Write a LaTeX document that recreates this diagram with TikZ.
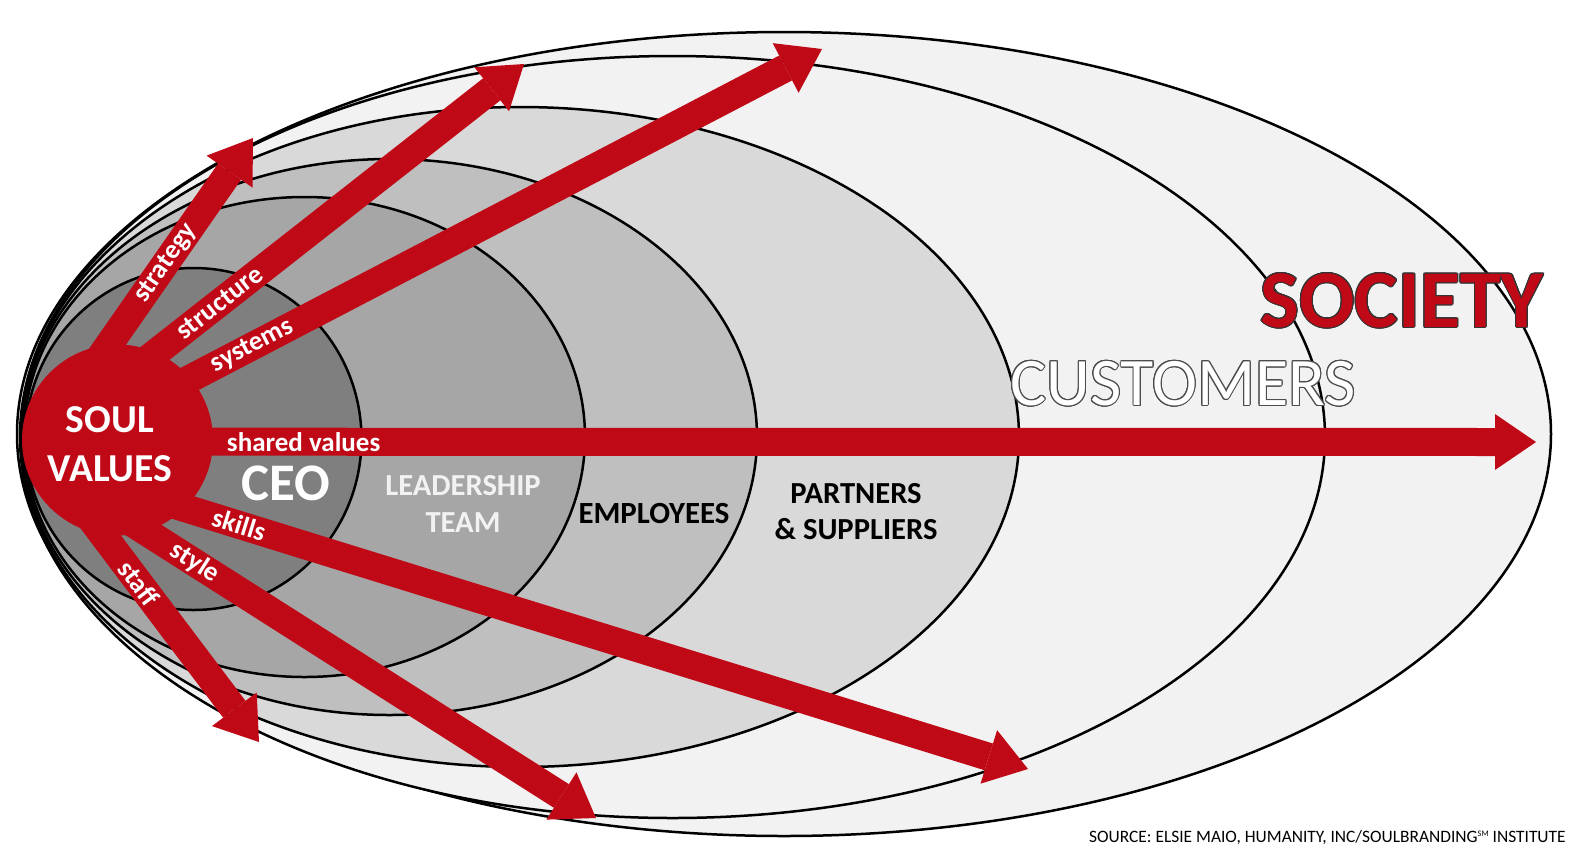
\documentclass[tikz,border=0pt]{standalone}
\usepackage{fontspec}
\setmainfont{Carlito}
\usepackage{contour}
\usetikzlibrary{arrows.meta}
\definecolor{soulred}{RGB}{191,9,22}
\definecolor{ceogray}{HTML}{7F7F7F}
\definecolor{leadgray}{HTML}{A6A6A6}
\definecolor{empgray}{HTML}{BFBFBF}
\definecolor{partgray}{HTML}{D9D9D9}
\definecolor{custgray}{HTML}{F2F2F2}
\contourlength{0.5pt}
\begin{document}
\begin{tikzpicture}[
  x=0.5pt, y=-0.5pt,
  ring/.style={draw=black, line width=1.25pt},
  valarrow/.style={draw=soulred, line width=14pt, shorten <=15pt,
    -{Triangle[width=28pt, length=20.5pt, line width=0pt]}},
  vlabel/.style={text=white, font=\fontsize{13.5}{16}\selectfont\bfseries, sloped, inner sep=0pt},
  ringtext/.style={font=\fontsize{15.3}{18.75}\selectfont\bfseries, align=center, inner sep=0pt},
]
\useasboundingbox (0,0) rectangle (1586,864);
\fill[white] (0,0) rectangle (1586,864);

\draw[ring, fill=custgray] (784,434) ellipse [x radius=767, y radius=402];
\draw[ring, fill=custgray] (672.5,437) ellipse [x radius=652.5, y radius=381];
\draw[ring, fill=partgray] (520,437) ellipse [x radius=499, y radius=330];
\draw[ring, fill=empgray] (389.5,437) ellipse [x radius=367.5, y radius=278];
\draw[ring, fill=leadgray] (304.5,437) ellipse [x radius=280.5, y radius=240];
\draw[ring, fill=ceogray] (193.5,439) ellipse [x radius=168, y radius=171];

\node[circle, fill=soulred, minimum size=95.5pt, inner sep=0pt, outer sep=0pt] (soul) at (117.5,440) {};

\coordinate (shared-tip) at (1536,442);
\coordinate (strategy-tip) at (253,138);
\coordinate (structure-tip) at (524,64);
\coordinate (systems-tip) at (822,49);
\coordinate (skills-tip) at (1028,769);
\coordinate (style-tip) at (596,818);
\coordinate (staff-tip) at (259,742);

\draw[valarrow] (soul.181) -- node[vlabel, pos=0.186] {shared values} (shared-tip);
\draw[valarrow] (soul.195) -- node[vlabel, pos=0.617] {strategy} (strategy-tip);
\draw[valarrow] (soul.190) -- node[vlabel, pos=0.392] {structure} (structure-tip);
\draw[valarrow] (soul.195) -- node[vlabel, pos=0.285] {systems} (systems-tip);
\draw[valarrow] (soul.191) -- node[vlabel, pos=0.2145] {skills} (skills-tip);
\draw[valarrow] (soul.188) -- node[vlabel, pos=0.300] {style} (style-tip);
\draw[valarrow] (soul.173) -- node[vlabel, pos=0.493] {staff} (staff-tip);

\node[text=white, font=\fontsize{19.8}{24.5}\selectfont\bfseries, align=center, inner sep=0pt] (soultext) at (110,444) {SOUL\\VALUES};
\node[text=white, font=\fontsize{26.4}{30}\selectfont\bfseries, inner sep=0pt] (ceo) at (286,483) {CEO};
\node[ringtext, text=white!95!black] (lead) at (463,504) {LEADERSHIP\\TEAM};
\node[ringtext, font=\fontsize{15.4}{18}\selectfont\bfseries] (emp) at (654,513) {EMPLOYEES};
\node[ringtext, font=\fontsize{15.3}{18}\selectfont\bfseries] (part) at (856,512) {PARTNERS\\\& SUPPLIERS};
\node[text=white, font=\fontsize{34}{40}\selectfont, inner sep=0pt] (cust) at (1183,384) {\contour{black!70}{CUSTOMERS}};
\node[text=soulred, font=\fontsize{41}{48}\selectfont\bfseries, inner sep=0pt] (society) at (1402,301) {\contour{black!80}{SOCIETY}};
\node[anchor=east, font=\fontsize{8.7}{10}\selectfont, inner sep=0pt] (source) at (1566,837.5)
  {SOURCE: ELSIE MAIO, HUMANITY, INC/SOULBRANDING{\fontsize{4.2}{5}\selectfont\raisebox{3pt}{SM}} INSTITUTE};
\end{tikzpicture}
\end{document}
